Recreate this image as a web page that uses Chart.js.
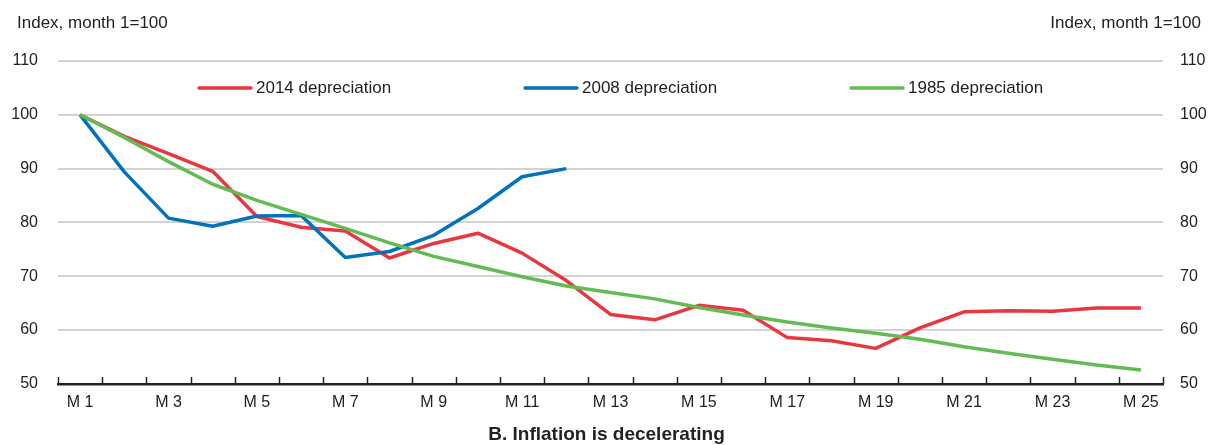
<!DOCTYPE html>
<html>
<head>
<meta charset="utf-8">
<title>B. Inflation is decelerating</title>
<script src="https://cdn.jsdelivr.net/npm/chart.js@4.4.1/dist/chart.umd.min.js"></script>
<style>
  html, body { margin: 0; padding: 0; background: #fff; }
  #wrap { width: 1213px; height: 445px; }
</style>
</head>
<body>
<div id="wrap"><canvas id="myChart" width="1213" height="445"></canvas></div>
<script>
'use strict';

// **************************** DATA ****************************

let months = ['M 1', 'M 2', 'M 3', 'M 4', 'M 5', 'M 6', 'M 7', 'M 8', 'M 9', 'M 10',
  'M 11', 'M 12', 'M 13', 'M 14', 'M 15', 'M 16', 'M 17', 'M 18', 'M 19', 'M 20',
  'M 21', 'M 22', 'M 23', 'M 24', 'M 25'];

let dep2014 = [100, 96, 92.8, 89.5, 81.1, 79.1, 78.4, 73.4, 76.1, 78, 74.3, 69.2, 62.9,
  61.9, 64.6, 63.7, 58.6, 58, 56.6, 60.4, 63.4, 63.6, 63.5, 64.1, 64.1];

let dep2008 = [100, 89.4, 80.8, 79.3, 81.2, 81.3, 73.5, 74.6, 77.6, 82.6, 88.5, 90];

let dep1985 = [100, 95.8, 91.3, 87.1, 84.1, 81.5, 78.9, 76.2, 73.7, 71.8, 69.9, 68.2, 67,
  65.8, 64.2, 62.8, 61.5, 60.4, 59.4, 58.3, 56.9, 55.7, 54.6, 53.5, 52.6];

let seriesNames = ['2014 depreciation', '2008 depreciation', '1985 depreciation'];
let yTicks = [50, 60, 70, 80, 90, 100, 110];
let unitLabel = 'Index, month 1=100';
let chartTitle = 'B. Inflation is decelerating';

// **************************** STYLE ****************************

let fontFamily = "'Liberation Sans', Arial, Helvetica, sans-serif";
let textColor = '#222222';
let red = '#e8373f';
let blue = '#0073bb';
let green = '#63bb53';

// **************************** PLUGIN (legend, unit labels, axis ticks) ****************************

let extrasPlugin = {
  id: 'extras',
  afterDraw(chart) {
    let c = chart.ctx;
    let area = chart.chartArea;
    c.save();

    // unit labels above both axes
    c.font = '17px ' + fontFamily;
    c.fillStyle = textColor;
    c.textBaseline = 'middle';
    c.textAlign = 'left';
    c.fillText(unitLabel, 17, 23);
    c.textAlign = 'right';
    c.fillText(unitLabel, chart.width - 12, 23);

    // small tick marks pointing up from the x axis, between the months
    let step = (area.right - area.left) / months.length;
    c.strokeStyle = '#222222';
    c.lineWidth = 1.5;
    for (let i = 0; i <= months.length; i++) {
      let x = Math.round(area.left + i * step) + 0.5;
      c.beginPath();
      c.moveTo(x, area.bottom);
      c.lineTo(x, area.bottom - 7);
      c.stroke();
    }

    // legend inside the plot
    let colors = [red, blue, green];
    let legendY = 88;
    for (let i = 0; i < seriesNames.length; i++) {
      let x0 = area.left + 141 + i * 326;
      c.strokeStyle = colors[i];
      c.lineWidth = 3.5;
      c.lineCap = 'round';
      c.beginPath();
      c.moveTo(x0, legendY);
      c.lineTo(x0 + 52, legendY);
      c.stroke();
      c.font = '17px ' + fontFamily;
      c.fillStyle = textColor;
      c.textAlign = 'left';
      c.fillText(seriesNames[i], x0 + 57, legendY);
    }
    c.restore();
  }
};

// **************************** CHART ****************************

let ctx = document.getElementById('myChart');

function lineSet(label, data, color, order) {
  return {
    label: label,
    data: data,
    borderColor: color,
    backgroundColor: color,
    borderWidth: 3.5,
    pointRadius: 0,
    pointHoverRadius: 0,
    tension: 0,
    fill: false,
    borderJoinStyle: 'round',
    order: order
  };
}

let myChartObj = {
  type: 'line',
  data: {
    labels: months,
    datasets: [
      lineSet(seriesNames[0], dep2014, red, 3),
      lineSet(seriesNames[1], dep2008, blue, 2),
      lineSet(seriesNames[2], dep1985, green, 1)
    ]
  },
  options: {
    responsive: false,
    animation: false,
    layout: { padding: { top: 61, left: 0, right: 0, bottom: 0 } },
    plugins: {
      legend: { display: false },
      tooltip: { enabled: false },
      title: {
        display: true,
        text: chartTitle,
        position: 'bottom',
        color: textColor,
        font: { family: fontFamily, size: 19, weight: 'bold', lineHeight: 1.1 },
        padding: { top: 3, bottom: 0 }
      }
    },
    scales: {
      x: {
        type: 'category',
        offset: true,
        grid: { display: false, drawTicks: false },
        border: { display: true, color: '#222222', width: 2.5 },
        ticks: {
          autoSkip: false,
          maxRotation: 0,
          padding: 9,
          color: textColor,
          font: { family: fontFamily, size: 16 },
          callback: function (value, index) {
            return index % 2 === 0 ? months[index] : '';
          }
        }
      },
      y: {
        position: 'left',
        min: yTicks[0],
        max: yTicks[yTicks.length - 1],
        afterFit: function (scale) { scale.width = 58; },
        afterBuildTicks: function (scale) {
          scale.ticks = yTicks.map(v => ({ value: v }));
        },
        grid: { color: '#d3d3d3', lineWidth: 2, drawTicks: false },
        border: { display: false },
        ticks: {
          padding: 20,
          color: textColor,
          font: { family: fontFamily, size: 16 }
        }
      },
      y2: {
        position: 'right',
        min: yTicks[0],
        max: yTicks[yTicks.length - 1],
        afterFit: function (scale) { scale.width = 50; },
        afterBuildTicks: function (scale) {
          scale.ticks = yTicks.map(v => ({ value: v }));
        },
        grid: { drawOnChartArea: false, drawTicks: false },
        border: { display: false },
        ticks: {
          padding: 17,
          color: textColor,
          font: { family: fontFamily, size: 16 }
        }
      }
    }
  },
  plugins: [extrasPlugin]
};

new Chart(ctx, myChartObj);
</script>
</body>
</html>
